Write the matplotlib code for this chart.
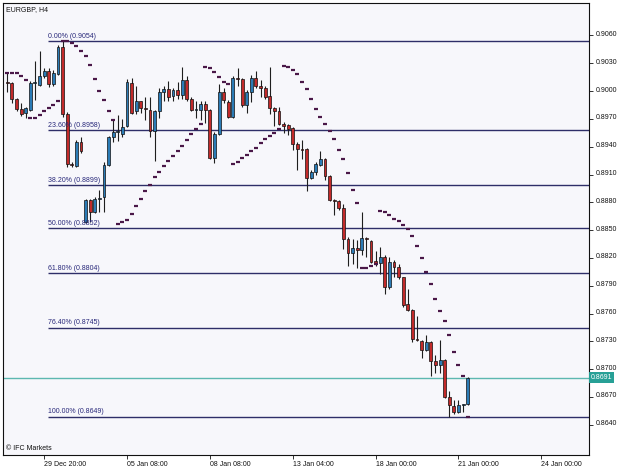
import matplotlib
matplotlib.use("Agg")
import matplotlib.pyplot as plt
import matplotlib.transforms as mtransforms
import numpy as np

plt.rcParams['font.family'] = ['Liberation Sans', 'DejaVu Sans']

# EURGBP H4 candles (open, high, low, close)
opens = [0.9010, 0.9009, 0.8992, 0.8981, 0.8976, 0.8980, 0.9009, 0.9007, 0.9016, 0.9022,
         0.9008, 0.9018, 0.9048, 0.8975, 0.8921, 0.8919, 0.8945, 0.8859, 0.8882, 0.8870,
         0.8884, 0.8886, 0.8920, 0.8951, 0.8956, 0.8954, 0.8962, 0.9009, 0.8978, 0.8989,
         0.8982, 0.8980, 0.8957, 0.8978, 0.8999, 0.9002, 0.8995, 0.9001, 0.8996, 0.9012,
         0.8992, 0.8980, 0.8980, 0.8986, 0.8980, 0.8928, 0.8954, 0.8999, 0.8988, 0.8972,
         0.9014, 0.9013, 0.8985, 0.8999, 0.9014, 0.9005, 0.9003, 0.8995, 0.8982, 0.8978,
         0.8965, 0.8963, 0.8960, 0.8943, 0.8938, 0.8938, 0.8906, 0.8913, 0.8920, 0.8927,
         0.8908, 0.8883, 0.8881, 0.8874, 0.8841, 0.8825, 0.8831, 0.8829, 0.8842, 0.8838,
         0.8817, 0.8815, 0.8821, 0.8789, 0.8816, 0.8810, 0.8799, 0.8770, 0.8764, 0.8733,
         0.8730, 0.8721, 0.8729, 0.8709, 0.8705, 0.8710, 0.8670, 0.8660, 0.8654, 0.8661,
         0.8662]
highs = [0.9021, 0.9010, 0.8993, 0.8987, 0.8983, 0.9011, 0.9032, 0.9043, 0.9025, 0.9025,
         0.9023, 0.9050, 0.9054, 0.8977, 0.8924, 0.8947, 0.8951, 0.8884, 0.8884, 0.8886,
         0.8893, 0.8923, 0.8952, 0.8969, 0.8974, 0.8970, 0.9013, 0.9014, 0.9006, 0.8989,
         0.8994, 0.8994, 0.8980, 0.9003, 0.9005, 0.9011, 0.9003, 0.9010, 0.9026, 0.9016,
         0.8994, 0.8989, 0.8989, 0.8989, 0.8981, 0.8956, 0.9008, 0.9003, 0.8990, 0.9016,
         0.9025, 0.9014, 0.9001, 0.9017, 0.9022, 0.9012, 0.9005, 0.9026, 0.8983, 0.8983,
         0.8967, 0.8965, 0.8961, 0.8945, 0.8947, 0.8939, 0.8915, 0.8923, 0.8935, 0.8928,
         0.8909, 0.8884, 0.8883, 0.8878, 0.8843, 0.8841, 0.8839, 0.8870, 0.8843, 0.8839,
         0.8827, 0.8832, 0.8823, 0.8821, 0.8818, 0.8814, 0.8800, 0.8786, 0.8765, 0.8757,
         0.8732, 0.8737, 0.8730, 0.8715, 0.8732, 0.8711, 0.8676, 0.8667, 0.8667, 0.8663,
         0.8692]
lows = [0.8999, 0.8987, 0.8979, 0.8973, 0.8971, 0.8978, 0.8990, 0.9005, 0.9014, 0.9004,
        0.9006, 0.9017, 0.8972, 0.8918, 0.8918, 0.8918, 0.8933, 0.8858, 0.8859, 0.8868,
        0.8870, 0.8870, 0.8919, 0.8945, 0.8946, 0.8950, 0.8961, 0.8975, 0.8975, 0.8976,
        0.8969, 0.8951, 0.8925, 0.8971, 0.8989, 0.8989, 0.8989, 0.8992, 0.8992, 0.8989,
        0.8978, 0.8971, 0.8969, 0.8966, 0.8927, 0.8922, 0.8953, 0.8987, 0.8971, 0.8971,
        0.9005, 0.8983, 0.8976, 0.8988, 0.9003, 0.8994, 0.8992, 0.8975, 0.8962, 0.8963,
        0.8955, 0.8953, 0.8936, 0.8915, 0.8927, 0.8892, 0.8905, 0.8909, 0.8919, 0.8904,
        0.8881, 0.8866, 0.8872, 0.8830, 0.8811, 0.8814, 0.8809, 0.8823, 0.8821, 0.8815,
        0.8811, 0.8803, 0.8781, 0.8787, 0.8800, 0.8797, 0.8767, 0.8763, 0.8729, 0.8730,
        0.8712, 0.8720, 0.8693, 0.8696, 0.8696, 0.8669, 0.8649, 0.8652, 0.8653, 0.8654,
        0.8661]
closes = [0.9009, 0.8992, 0.8981, 0.8975, 0.8982, 0.9009, 0.9010, 0.9016, 0.9022, 0.9008,
          0.9019, 0.9048, 0.8975, 0.8921, 0.8920, 0.8945, 0.8935, 0.8882, 0.8870, 0.8884,
          0.8885, 0.8920, 0.8951, 0.8956, 0.8957, 0.8961, 0.9010, 0.8976, 0.8989, 0.8982,
          0.8981, 0.8957, 0.8978, 0.8999, 0.9002, 0.8994, 0.9001, 0.8996, 0.9012, 0.8992,
          0.8980, 0.8981, 0.8986, 0.8980, 0.8928, 0.8954, 0.8999, 0.8990, 0.8972, 0.9014,
          0.9013, 0.8985, 0.8999, 0.9014, 0.9005, 0.9003, 0.8994, 0.8982, 0.8978, 0.8964,
          0.8962, 0.8959, 0.8943, 0.8938, 0.8937, 0.8906, 0.8913, 0.8921, 0.8927, 0.8908,
          0.8883, 0.8881, 0.8874, 0.8841, 0.8825, 0.8831, 0.8829, 0.8842, 0.8841, 0.8816,
          0.8815, 0.8821, 0.8789, 0.8816, 0.8810, 0.8799, 0.8769, 0.8764, 0.8733, 0.8731,
          0.8721, 0.8729, 0.8709, 0.8705, 0.8710, 0.8670, 0.8661, 0.8654, 0.8661, 0.8662,
          0.8691]

# Parabolic SAR dots, one per bar
sar = [0.9019, 0.9019, 0.9019, 0.9016, 0.9012,
       0.8971, 0.8971, 0.8974, 0.8978, 0.8982, 0.8985, 0.8989,
       0.9054, 0.9054, 0.9052, 0.9049, 0.9043, 0.9038, 0.9028, 0.9013, 0.9000, 0.8990,
       0.8979, 0.8969,
       0.8857, 0.8859, 0.8861, 0.8867, 0.8876, 0.8884, 0.8892, 0.8899, 0.8907, 0.8913,
       0.8919, 0.8925, 0.8930, 0.8935, 0.8941, 0.8947, 0.8954, 0.8959, 0.8965,
       0.9026, 0.9025, 0.9021, 0.9015, 0.9010, 0.9008,
       0.8921, 0.8923, 0.8928, 0.8931, 0.8935, 0.8939, 0.8944, 0.8948, 0.8952, 0.8955,
       0.8959,
       0.9027, 0.9026, 0.9023, 0.9018, 0.9010, 0.9002, 0.8991, 0.8981, 0.8972, 0.8965,
       0.8957, 0.8948, 0.8936, 0.8927, 0.8912, 0.8893, 0.8879,
       0.8809, 0.8809, 0.8811, 0.8814,
       0.8871, 0.8870, 0.8866, 0.8862, 0.8860, 0.8856, 0.8851, 0.8844, 0.8833, 0.8820,
       0.8805, 0.8792, 0.8776, 0.8763, 0.8752, 0.8737, 0.8719, 0.8705, 0.8693,
       0.8649]

# Fibonacci retracement levels
fib_pcts = ["0.00%", "23.60%", "38.20%", "50.00%", "61.80%", "76.40%", "100.00%"]
fib_levels = [0.9054, 0.8958, 0.8899, 0.8852, 0.8804, 0.8745, 0.8649]

last_price = 0.8691

# axis labels
price_ticks = [0.9060, 0.9030, 0.9000, 0.8970, 0.8940, 0.8910, 0.8880, 0.8850,
               0.8820, 0.8790, 0.8760, 0.8730, 0.8700, 0.8670, 0.8640]
date_bars = [8, 26, 44, 62, 80, 98, 116]
date_labels = ["29 Dec 20:00", "05 Jan 08:00", "08 Jan 08:00", "13 Jan 04:00",
               "18 Jan 00:00", "21 Jan 00:00", "24 Jan 00:00"]

opens = np.array(opens)
closes = np.array(closes)
x = np.arange(len(opens))
up = closes >= opens

fig = plt.figure(figsize=(6.25, 4.69), dpi=100)
ax = fig.add_axes([3.3 / 625, 1 - 454.8 / 469, 586 / 625, 451.5 / 469])
ax.set_facecolor("#F7F7FB")

# wicks, then bodies
ax.vlines(x, lows, highs, color="#1E1E1E", linewidth=0.8, zorder=2)
body_h = np.abs(closes - opens)
body_h = np.maximum(body_h, 0.00008)
ax.bar(x[up], body_h[up], bottom=opens[up], width=0.62, color="#2B7BB5",
       edgecolor="#111111", linewidth=0.5, zorder=3)
ax.bar(x[~up], body_h[~up], bottom=closes[~up], width=0.62, color="#C22A2A",
       edgecolor="#111111", linewidth=0.5, zorder=3)

# parabolic SAR
ax.plot(x, sar, linestyle="none", marker="_", markersize=3, markeredgewidth=1.6,
        color="#4A1848", zorder=4)

# fibonacci lines and labels
x_start = 8.84
x_end = 126.41
for pct, lvl in zip(fib_pcts, fib_levels):
    ax.hlines(lvl, x_start, x_end, color="#2E2E68", linewidth=1.0, zorder=1)
    ax.text(x_start, lvl + 0.00012, "%s (%.4f)" % (pct, lvl), fontsize=5,
            color="#28287A", va="bottom", ha="left", zorder=5)

# last price line and box
ax.axhline(last_price, color="#5DB8B0", linewidth=1.0, zorder=1)
trans = mtransforms.blended_transform_factory(ax.transAxes, ax.transData)
ax.text(1.003, last_price, "%.4f" % last_price, transform=trans, fontsize=5,
        color="white", va="center", ha="left", clip_on=False,
        bbox=dict(boxstyle="square,pad=0.25", facecolor="#27A096", edgecolor="none"))

ax.set_xlim(-0.869, 126.41)
ax.set_ylim(0.86077, 0.90947)

ax.yaxis.tick_right()
ax.set_yticks(price_ticks)
ax.set_yticklabels(["%.4f" % p for p in price_ticks])
ax.tick_params(axis="y", direction="out", length=3, width=0.6, pad=1.5, labelsize=5,
               colors="#111111")
# MT4 draws price labels a little above their tick
shift = mtransforms.ScaledTranslation(0, 1.5 / 72, fig.dpi_scale_trans)
for lab in ax.get_yticklabels():
    lab.set_transform(lab.get_transform() + shift)

ax.set_xticks(date_bars)
ax.set_xticklabels(date_labels, ha="left")
ax.tick_params(axis="x", direction="out", length=3, width=0.6, pad=1.5, labelsize=5,
               colors="#111111")
for s in ax.spines.values():
    s.set_color("#111111")
    s.set_linewidth(0.8)

ax.text(0.004, 0.994, "EURGBP, H4", transform=ax.transAxes, fontsize=5,
        va="top", ha="left", color="#111111")
ax.text(0.004, 0.006, "\u00a9 IFC Markets", transform=ax.transAxes, fontsize=5,
        va="bottom", ha="left", color="#111111")

fig.savefig("out.png", dpi=100)
